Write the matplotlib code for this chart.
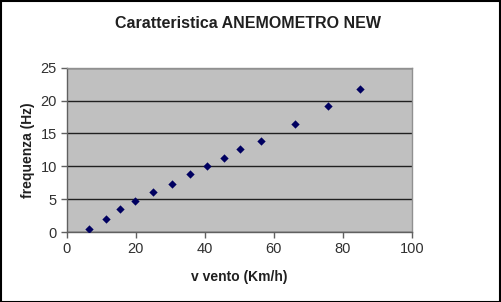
import matplotlib
matplotlib.use("Agg")
import matplotlib.pyplot as plt
from matplotlib.patches import Rectangle

v_vento = [6.6, 11.4, 15.6, 19.9, 25.0, 30.6, 35.9, 40.7, 45.7, 50.2, 56.3, 66.1, 75.7, 85.1]
frequenza = [0.5, 2.0, 3.45, 4.7, 6.1, 7.35, 8.8, 10.0, 11.25, 12.6, 13.85, 16.5, 19.2, 21.7]
x_ticks = [0, 20, 40, 60, 80, 100]
y_ticks = [0, 5, 10, 15, 20, 25]

plt.rcParams['font.family'] = ['Liberation Sans', 'DejaVu Sans']

W, H = 501, 302
fig = plt.figure(figsize=(W / 100, H / 100), dpi=100)
fig.patch.set_facecolor('white')
fig.patches.append(Rectangle((0.5 / W, 0.5 / H), 1 - 1.5 / W, 1 - 1.5 / H,
                             transform=fig.transFigure, fill=False,
                             edgecolor='black', linewidth=1.5))

left, right, top, bottom = 66.5, 411.7, 67.7, 232.0
ax = fig.add_axes([left / W, 1 - bottom / H, (right - left) / W, (bottom - top) / H])
ax.set_facecolor('#c0c0c0')
ax.set_xlim(0, 100)
ax.set_ylim(0, 25)
ax.set_xticks(x_ticks)
ax.set_yticks(y_ticks)
ax.yaxis.grid(True, color='#202020', linewidth=1.0)
ax.set_axisbelow(True)
for s in ['top', 'right']:
    ax.spines[s].set_color('#909090')
    ax.spines[s].set_linewidth(1.0)
for s in ['left', 'bottom']:
    ax.spines[s].set_color('#606060')
    ax.spines[s].set_linewidth(1.0)
ax.tick_params(axis='both', direction='out', length=4, width=1, color='#606060',
               labelsize=10.5, labelcolor='#303030', pad=3)

ax.scatter(v_vento, frequenza, marker='D', s=18, color='#000060', zorder=3, linewidths=0)

ax.set_xlabel('v vento (Km/h)', fontsize=10, fontweight='bold', color='#202020', labelpad=10)
ax.set_ylabel('frequenza (Hz)', fontsize=10, fontweight='bold', color='#202020', labelpad=4)
fig.text((112.7 + 384) / 2 / W, 1 - 24 / H, 'Caratteristica ANEMOMETRO NEW',
         ha='center', va='center', fontsize=11.5, fontweight='bold', color='#202020')

fig.savefig('out.png', dpi=100)
